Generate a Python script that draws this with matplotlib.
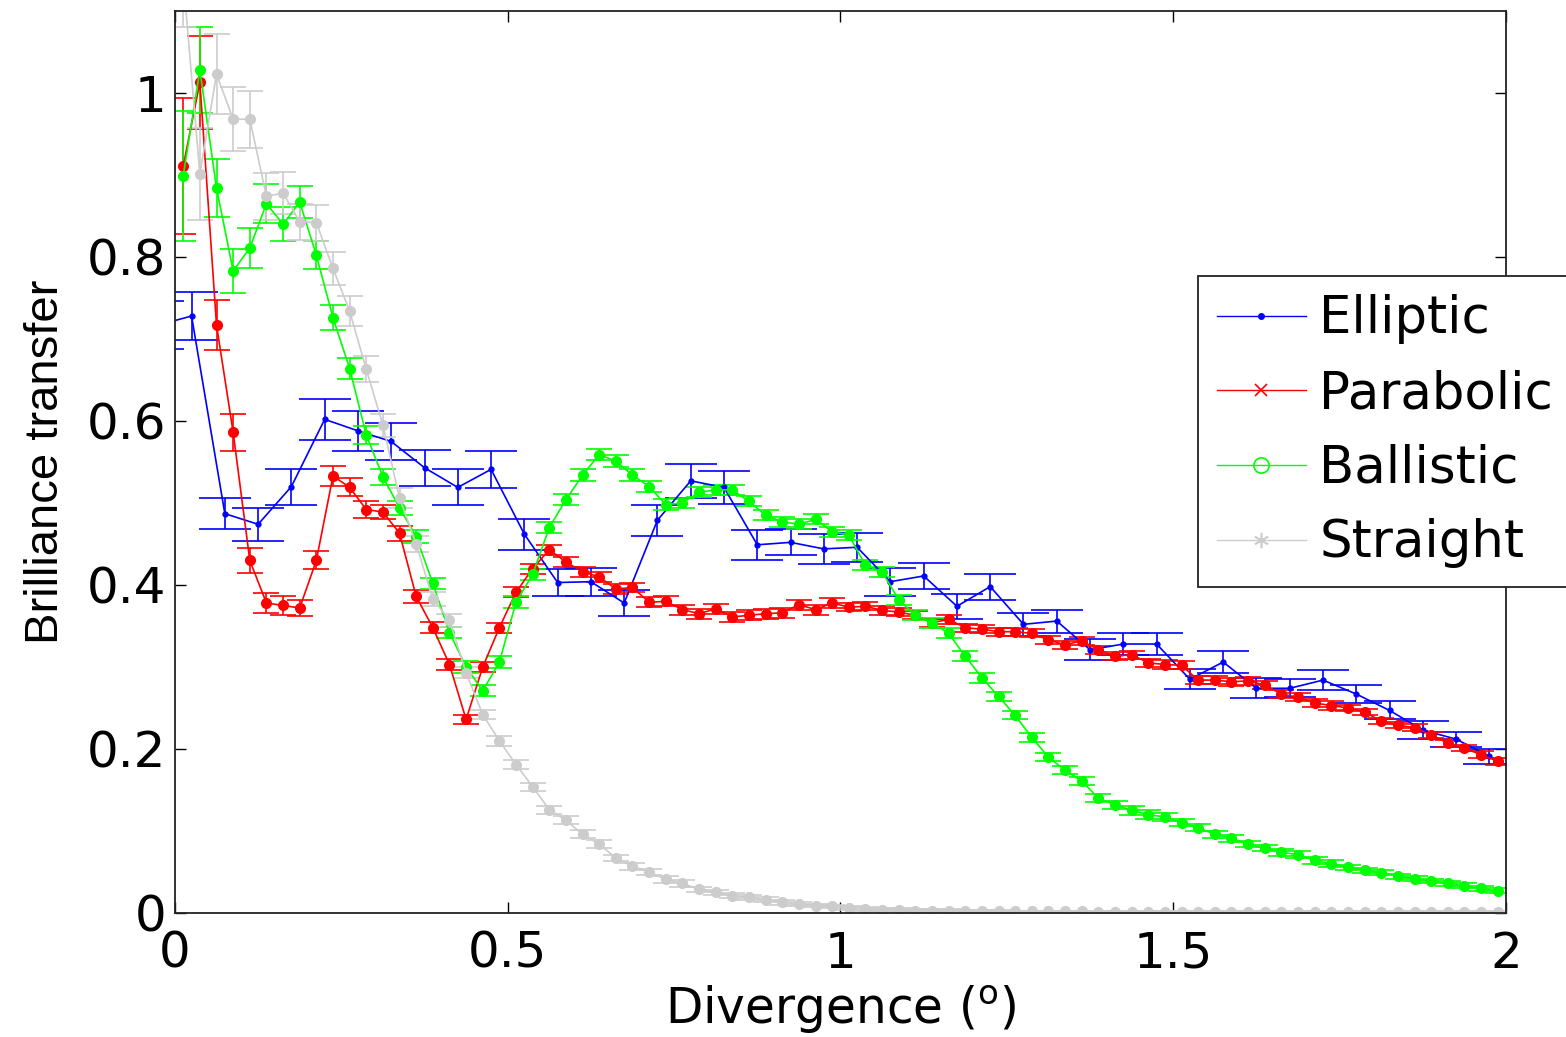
import numpy as np
import matplotlib.pyplot as plt
from matplotlib.lines import Line2D

plt.rcParams['font.family'] = 'DejaVu Sans'
plt.rcParams['mathtext.fontset'] = 'dejavusans'

# divergence bin centres (degrees)
div_fine = np.linspace(0.0125, 1.9875, 80)
div_coarse = np.linspace(-0.025, 1.975, 41)

elliptic = [0.717, 0.728, 0.487, 0.474, 0.520, 0.602, 0.588, 0.575, 0.543, 0.519,
            0.541, 0.462, 0.403, 0.404, 0.378, 0.479, 0.527, 0.519, 0.449, 0.452,
            0.444, 0.446, 0.404, 0.411, 0.374, 0.398, 0.352, 0.356, 0.321, 0.328,
            0.328, 0.285, 0.306, 0.274, 0.274, 0.284, 0.267, 0.247, 0.223, 0.212,
            0.191]
elliptic_err = [0.029, 0.029, 0.019, 0.020, 0.022, 0.025, 0.024, 0.023, 0.022, 0.022,
                0.023, 0.019, 0.017, 0.017, 0.016, 0.019, 0.021, 0.020, 0.018, 0.016,
                0.018, 0.018, 0.017, 0.016, 0.015, 0.016, 0.014, 0.014, 0.013, 0.013,
                0.013, 0.012, 0.013, 0.012, 0.011, 0.012, 0.011, 0.011, 0.011, 0.009,
                0.009]

parabolic = [0.911, 1.013, 0.717, 0.586, 0.430, 0.378, 0.375, 0.372, 0.430, 0.533,
             0.519, 0.492, 0.489, 0.463, 0.386, 0.348, 0.303, 0.236, 0.300, 0.348,
             0.391, 0.420, 0.443, 0.428, 0.416, 0.410, 0.395, 0.397, 0.379, 0.380,
             0.370, 0.365, 0.371, 0.361, 0.363, 0.365, 0.366, 0.376, 0.370, 0.378,
             0.373, 0.374, 0.369, 0.367, 0.363, 0.354, 0.358, 0.348, 0.346, 0.343,
             0.343, 0.341, 0.333, 0.327, 0.332, 0.321, 0.313, 0.315, 0.305, 0.303,
             0.302, 0.284, 0.284, 0.282, 0.283, 0.278, 0.267, 0.263, 0.256, 0.253,
             0.250, 0.245, 0.234, 0.229, 0.226, 0.217, 0.207, 0.201, 0.193, 0.185]
parabolic_err = [0.083, 0.057, 0.031, 0.022, 0.015, 0.012, 0.011, 0.010, 0.011, 0.012,
                 0.011, 0.010, 0.009, 0.009, 0.008, 0.007, 0.007, 0.006, 0.006, 0.006,
                 0.006, 0.006, 0.006, 0.006, 0.006, 0.006, 0.006, 0.006, 0.006, 0.006,
                 0.006, 0.006, 0.006, 0.006, 0.006, 0.006, 0.006, 0.006, 0.006, 0.006,
                 0.005, 0.005, 0.005, 0.005, 0.005, 0.005, 0.005, 0.005, 0.005, 0.005,
                 0.005, 0.005, 0.005, 0.005, 0.005, 0.005, 0.005, 0.005, 0.005, 0.005,
                 0.005, 0.005, 0.005, 0.005, 0.005, 0.005, 0.005, 0.005, 0.005, 0.005,
                 0.004, 0.004, 0.004, 0.004, 0.004, 0.004, 0.004, 0.004, 0.004, 0.004]

ballistic = [0.899, 1.028, 0.884, 0.783, 0.811, 0.865, 0.840, 0.867, 0.802, 0.726,
             0.664, 0.583, 0.532, 0.494, 0.459, 0.402, 0.342, 0.300, 0.271, 0.306,
             0.379, 0.413, 0.470, 0.504, 0.534, 0.559, 0.551, 0.534, 0.520, 0.498,
             0.500, 0.513, 0.516, 0.516, 0.502, 0.485, 0.477, 0.474, 0.480, 0.465,
             0.461, 0.424, 0.416, 0.382, 0.363, 0.354, 0.341, 0.313, 0.287, 0.264,
             0.241, 0.214, 0.190, 0.174, 0.161, 0.140, 0.132, 0.125, 0.120, 0.117,
             0.110, 0.104, 0.096, 0.091, 0.084, 0.079, 0.074, 0.071, 0.064, 0.060,
             0.056, 0.052, 0.049, 0.045, 0.042, 0.039, 0.036, 0.033, 0.030, 0.027]
ballistic_err = [0.079, 0.052, 0.035, 0.027, 0.024, 0.024, 0.021, 0.020, 0.017, 0.015,
                 0.013, 0.011, 0.010, 0.009, 0.008, 0.007, 0.007, 0.007, 0.007, 0.007,
                 0.007, 0.007, 0.007, 0.007, 0.007, 0.007, 0.007, 0.007, 0.007, 0.007,
                 0.006, 0.006, 0.006, 0.006, 0.006, 0.006, 0.006, 0.006, 0.006, 0.006,
                 0.006, 0.006, 0.006, 0.006, 0.006, 0.006, 0.006, 0.006, 0.006, 0.006,
                 0.005, 0.005, 0.005, 0.005, 0.005, 0.005, 0.005, 0.005, 0.005, 0.005,
                 0.004, 0.004, 0.004, 0.004, 0.004, 0.004, 0.004, 0.004, 0.004, 0.004,
                 0.003, 0.003, 0.003, 0.003, 0.003, 0.003, 0.003, 0.003, 0.003, 0.003]

straight = [1.140, 0.901, 1.023, 0.968, 0.968, 0.874, 0.878, 0.843, 0.842, 0.786,
            0.734, 0.663, 0.595, 0.506, 0.450, 0.383, 0.357, 0.293, 0.242, 0.210,
            0.181, 0.154, 0.126, 0.113, 0.096, 0.084, 0.067, 0.057, 0.050, 0.041,
            0.036, 0.029, 0.025, 0.021, 0.019, 0.016, 0.013, 0.011, 0.009, 0.008,
            0.006, 0.005, 0.004, 0.004, 0.003, 0.003, 0.003, 0.002, 0.002, 0.002,
            0.002, 0.002, 0.002, 0.002, 0.002, 0.001, 0.001, 0.001, 0.001, 0.001,
            0.001, 0.001, 0.001, 0.001, 0.001, 0.001, 0.001, 0.001, 0.001, 0.001,
            0.001, 0.001, 0.001, 0.001, 0.001, 0.001, 0.001, 0.001, 0.001, 0.001]
straight_err = [0.060, 0.056, 0.049, 0.039, 0.035, 0.029, 0.026, 0.022, 0.022, 0.020,
                0.018, 0.016, 0.014, 0.012, 0.010, 0.009, 0.008, 0.007, 0.006, 0.006,
                0.005, 0.005, 0.005, 0.005, 0.005, 0.005, 0.004, 0.004, 0.004, 0.004,
                0.004, 0.003, 0.003, 0.003, 0.003, 0.003, 0.003, 0.002, 0.002, 0.002,
                0.002, 0.002, 0.002, 0.002, 0.002, 0.002, 0.002, 0.002, 0.002, 0.002,
                0.001, 0.001, 0.001, 0.001, 0.001, 0.001, 0.001, 0.001, 0.001, 0.001,
                0.001, 0.001, 0.001, 0.001, 0.001, 0.001, 0.001, 0.001, 0.001, 0.001,
                0.001, 0.001, 0.001, 0.001, 0.001, 0.001, 0.001, 0.001, 0.001, 0.001]

labels = ['Elliptic', 'Parabolic', 'Ballistic', 'Straight']
colors = ['#0000ff', '#ff0000', '#00ff00', '#cccccc']

fig = plt.figure(figsize=(15.66, 10.37), dpi=100)
ax = fig.add_axes([0.1117, 0.1196, 0.85, 0.8698])

# (x, y, err, colour, marker size, cap size)
series = [
    (div_coarse, elliptic, elliptic_err, colors[0], 3.5, 18.7),
    (div_fine, parabolic, parabolic_err, colors[1], 7, 9.4),
    (div_fine, ballistic, ballistic_err, colors[2], 7, 9.4),
    (div_fine, straight, straight_err, colors[3], 7, 9.4),
]
for x, y, e, c, ms, cs in series:
    ax.errorbar(x, y, yerr=e, color=c, marker='o', ms=ms, mec=c, mfc=c,
                lw=1.2, elinewidth=1.2, capsize=cs, capthick=1.2)

ax.set_xlim(0, 2)
ax.set_ylim(0, 1.1)
ax.set_xticks([0, 0.5, 1, 1.5, 2])
ax.set_xticklabels(['0', '0.5', '1', '1.5', '2'])
ax.set_yticks([0, 0.2, 0.4, 0.6, 0.8, 1])
ax.set_yticklabels(['0', '0.2', '0.4', '0.6', '0.8', '1'])
ax.tick_params(direction='in', length=8, width=1, top=True, right=True,
               labelsize=36)
ax.tick_params(axis='x', pad=12)
ax.tick_params(axis='y', pad=6)
for s in ax.spines.values():
    s.set_linewidth(1.3)
    s.set_color('#222222')

ax.set_xlabel('Divergence ($^{\\mathrm{o}}$)', fontsize=35, labelpad=4)
ax.set_ylabel('Brilliance transfer', fontsize=34, family='Liberation Sans',
              labelpad=14)

# legend markers differ from the plotted ones
handles = [
    Line2D([], [], color=colors[0], lw=1, marker='.', ms=8),
    Line2D([], [], color=colors[1], lw=1, marker='x', ms=8, mew=1.2),
    Line2D([], [], color=colors[2], lw=1, marker='o', ms=11, mfc='none', mew=1.2),
    Line2D([], [], color=colors[3], lw=1, marker=(6, 2, 0), ms=11, mew=1.2),
]
leg = ax.legend(handles, labels, loc='upper left', bbox_to_anchor=(0.7686, 0.7062),
                borderaxespad=0, fontsize=37, fancybox=False, framealpha=1,
                edgecolor='#222222', handlelength=1.75, handletextpad=0.25,
                labelspacing=0.48, borderpad=0.36)
leg.get_frame().set_linewidth(1.3)

fig.savefig('out.png', dpi=100)
